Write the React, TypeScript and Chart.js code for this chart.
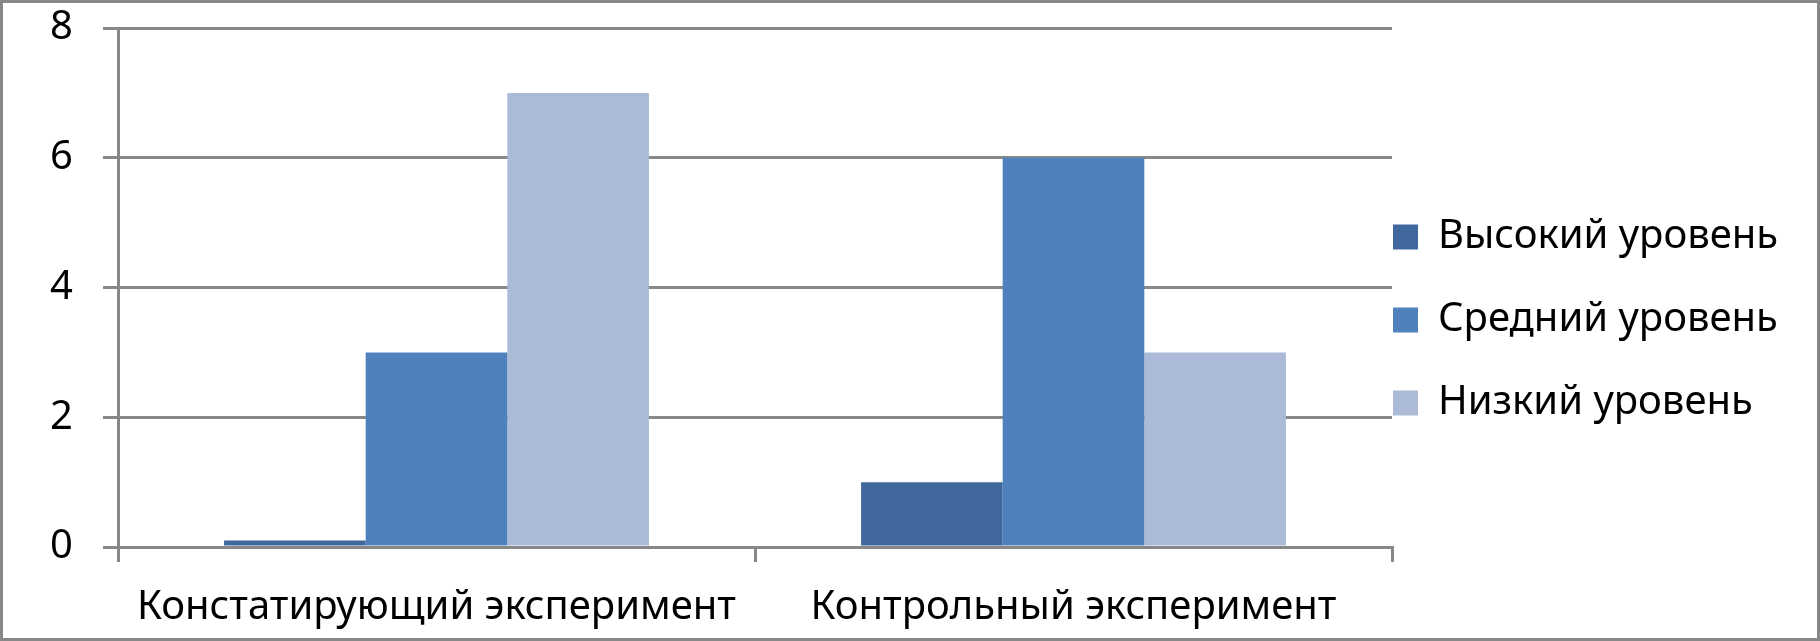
import React, { useEffect, useRef } from "react";
import { Chart, registerables } from "chart.js";
Chart.register(...registerables);

const categories = ["Констатирующий эксперимент", "Контрольный эксперимент"];
const seriesNames = ["Высокий уровень", "Средний уровень", "Низкий уровень"];
const highValues = [0.1, 1];
const midValues = [3, 6];
const lowValues = [7, 3];
const yTicks = [0, 2, 4, 6, 8];
const seriesColors = ["#41689C", "#4F81BD", "#AABAD7"];

const W = 1820;
const H = 641;
const FONT = "Noto Sans";
const FS = 40;
const LH = 1.2;
const GRID = "#888888";

export default function App() {
  const ref = useRef<HTMLCanvasElement>(null);
  useEffect(() => {
    document.body.style.margin = "0";

    const legendShift = {
      id: "legendShift",
      afterLayout(chart: any) {
        const lg: any = chart.legend;
        if (!lg) return;
        const p = lg.options.labels.padding;
        const dx = 1393 - (lg.left + p);
        const dy = (237 - FS / 2) - (lg.top + p);
        lg.left += dx;
        lg.right += dx;
        lg.top += dy;
        lg.bottom += dy;
      },
    };
    const frame = {
      id: "frame",
      afterDraw(chart: any) {
        const ctx = chart.ctx;
        ctx.save();
        ctx.strokeStyle = GRID;
        ctx.lineWidth = 3;
        ctx.strokeRect(1.5, 1.5, W - 3, H - 3);
        ctx.restore();
      },
    };
    const values = [highValues, midValues, lowValues];
    const chart = new Chart(ref.current!, {
      type: "bar",
      data: {
        labels: categories,
        datasets: seriesNames.map((n, i) => ({
          label: n,
          data: values[i],
          backgroundColor: seriesColors[i],
          borderWidth: 0,
          categoryPercentage: 0.667,
          barPercentage: 1,
        })),
      },
      options: {
        animation: false,
        responsive: false,
        layout: { padding: { top: 28, left: 0, right: 0, bottom: 0 } },
        plugins: {
          legend: {
            position: "right",
            align: "start",
            maxWidth: 428,
            labels: {
              boxWidth: 25,
              boxHeight: 25,
              padding: 83 - FS,
              color: "#000",
              font: { family: FONT, size: FS },
            },
          },
          tooltip: { enabled: false },
        },
        scales: {
          x: {
            grid: { display: true, drawOnChartArea: false, drawTicks: true, tickLength: 15, color: GRID, lineWidth: 3, offset: true },
            border: { display: true, color: GRID, width: 3 },
            ticks: { color: "#000", font: { family: FONT, size: FS, lineHeight: LH }, padding: 22, maxRotation: 0, autoSkip: false },
            afterFit: (s: any) => { s.height = 94; },
          },
          y: {
            min: 0,
            max: 8,
            afterBuildTicks: (s: any) => { s.ticks = yTicks.map((v) => ({ value: v })); },
            ticks: { color: "#000", font: { family: FONT, size: FS, lineHeight: LH }, padding: 30 },
            grid: { color: GRID, lineWidth: 3, tickLength: 15, drawTicks: true },
            border: { display: true, color: GRID, width: 3 },
            afterFit: (s: any) => {
              s.width = 118;
              s.paddingTop = 0;
              s.paddingBottom = 0;
            },
          },
        },
      },
      plugins: [legendShift, frame],
    } as any);
    return () => chart.destroy();
  }, []);
  return (
    <div style={{ position: "relative", width: W, height: H }}>
      <canvas ref={ref} width={W} height={H} style={{ display: "block" }} />
    </div>
  );
}
